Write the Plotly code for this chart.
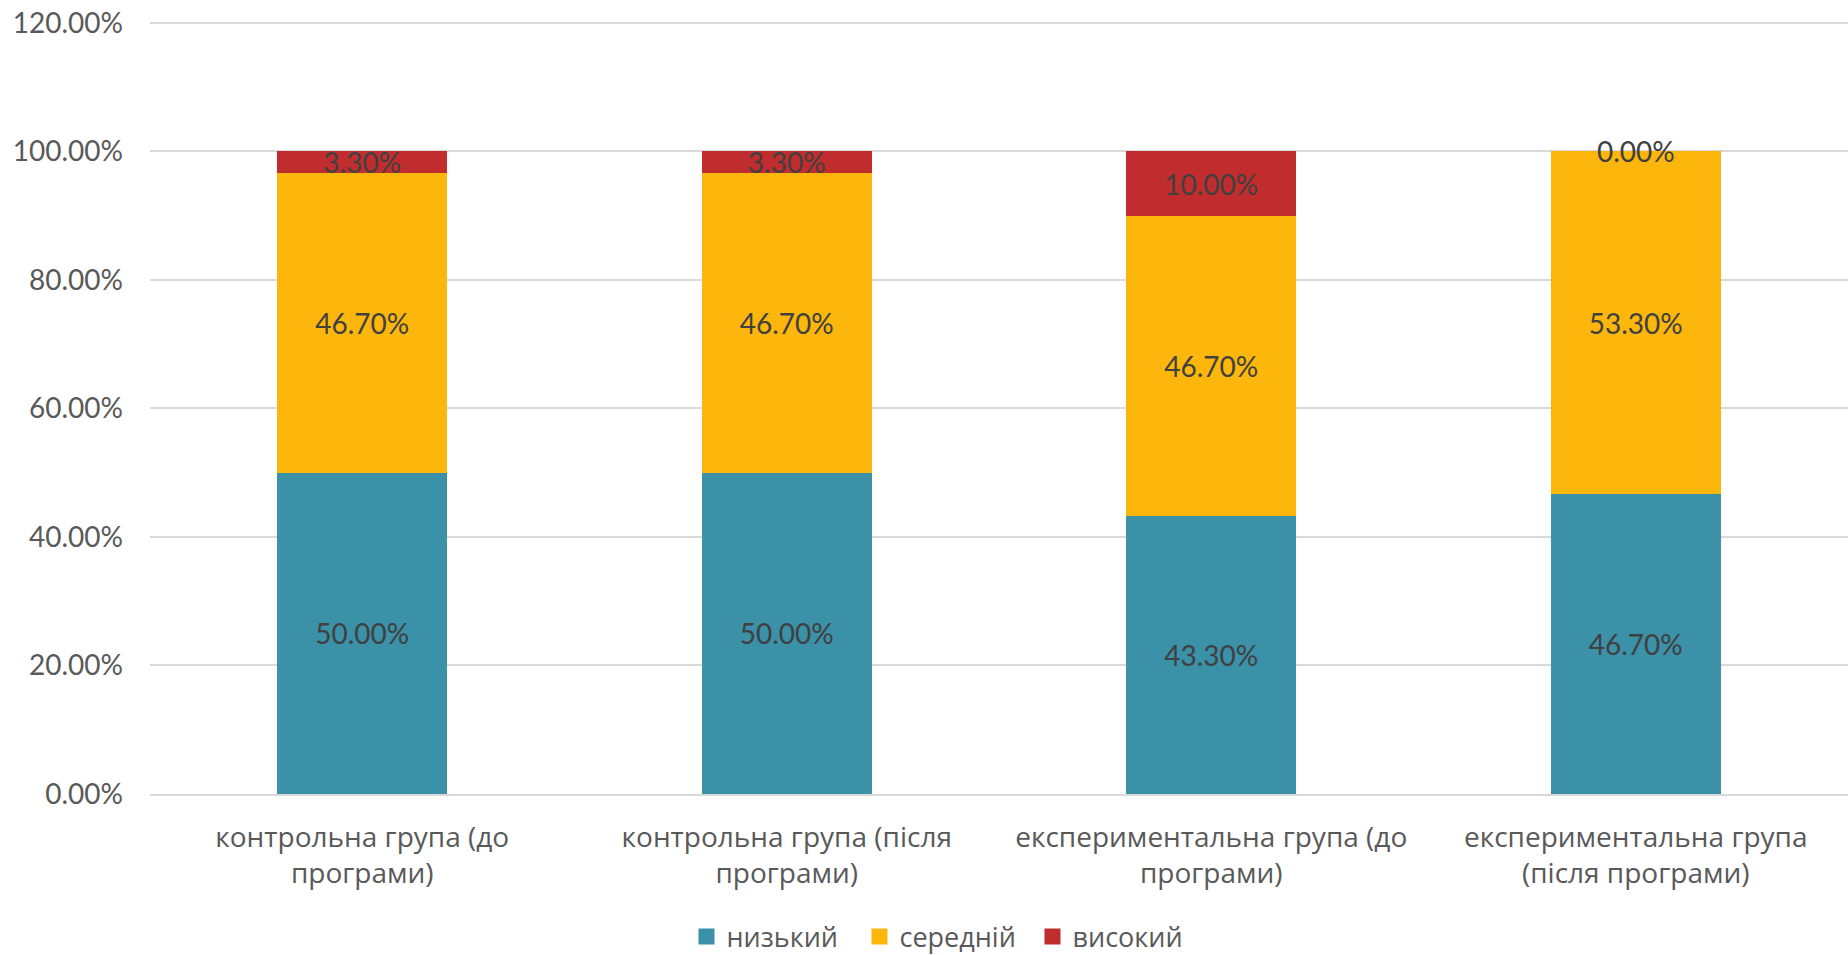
import plotly.graph_objects as go

categories = [
    "контрольна група (до<br>програми)",
    "контрольна група (після<br>програми)",
    "експериментальна група (до<br>програми)",
    "експериментальна група<br>(після програми)",
]
low = [50.0, 50.0, 43.3, 46.7]
mid = [46.7, 46.7, 46.7, 53.3]
high = [3.3, 3.3, 10.0, 0.0]
series_names = ["низький", "середній", "високий"]
colors = ["#3A91A8", "#FDB60B", "#C12D2E"]
tick_vals = [0, 20, 40, 60, 80, 100, 120]
tick_text = ["0.00%", "20.00%", "40.00%", "60.00%", "80.00%", "100.00%", "120.00%"]

num_font = "Lato, 'Open Sans', sans-serif"
txt_font = "'Open Sans', 'Noto Sans', sans-serif"
label_color = "#404040"

fig = go.Figure()
series = [low, mid, high]
for name, vals, col in zip(series_names, series, colors):
    fig.add_trace(go.Bar(
        x=categories, y=vals, name=name, showlegend=False,
        marker=dict(color=col, line=dict(width=0)),
        text=[f"{v:.2f}%" if v > 0 else "" for v in vals],
        textposition="inside",
        insidetextanchor="middle",
        textfont=dict(family=num_font, size=28, color=label_color),
        constraintext="none",
    ))

# legend entries with larger square swatches
for name, col in zip(series_names, colors):
    fig.add_trace(go.Scatter(
        x=[None], y=[None], mode="markers", name=name,
        marker=dict(symbol="square", size=16, color=col),
    ))

# labels for zero-height segments (plotly does not draw text for empty bars)
for si, vals in enumerate(series):
    for ci, v in enumerate(vals):
        if v == 0:
            base = sum(series[k][ci] for k in range(si))
            fig.add_annotation(
                x=categories[ci], y=base + v / 2, text=f"{v:.2f}%",
                showarrow=False, yanchor="middle",
                font=dict(family=num_font, size=28, color=label_color),
            )

fig.update_layout(
    barmode="stack",
    bargap=0.6,
    width=1848, height=955,
    margin=dict(l=150, r=0, t=21, b=161),
    paper_bgcolor="white", plot_bgcolor="white",
    uniformtext=dict(minsize=28, mode="show"),
    showlegend=True,
    legend=dict(
        orientation="h", xref="container", yref="container",
        x=0.5119, xanchor="center", y=0.0188, yanchor="middle",
        font=dict(family=txt_font, size=27, color="#595959"),
        itemwidth=30, traceorder="normal",
        entrywidth=128, entrywidthmode="pixels",
    ),
    xaxis=dict(
        tickfont=dict(family=txt_font, size=28, color="#595959"),
        showline=True, linecolor="#D9D9D9", linewidth=2,
        ticks="", showgrid=False, ticklabelstandoff=17, automargin=False,
        ticklabeloverflow="allow",
    ),
    yaxis=dict(
        range=[0, 120.3], tickvals=tick_vals, ticktext=tick_text,
        tickfont=dict(family=num_font, size=28, color="#595959"),
        showgrid=True, gridcolor="#D9D9D9", gridwidth=2,
        zeroline=False, showline=False, ticks="", ticklabelstandoff=26,
        automargin=False, ticklabeloverflow="allow",
    ),
)

fig.write_html(
    "out.html",
    config={"displayModeBar": False},
    post_script="document.body.style.margin='0';document.body.style.overflow='hidden';",
)
